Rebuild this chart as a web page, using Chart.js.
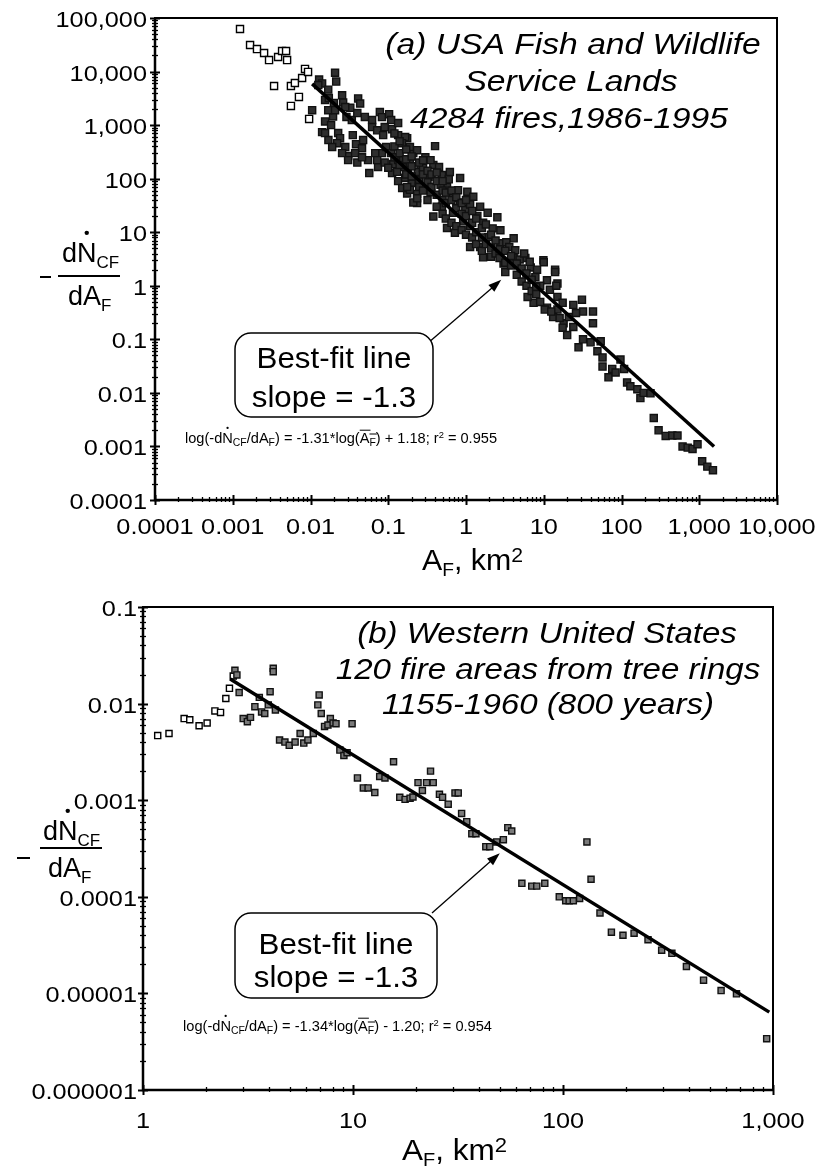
<!DOCTYPE html>
<html>
<head>
<meta charset="utf-8">
<script src="https://cdn.jsdelivr.net/npm/chart.js@4.4.1/dist/chart.umd.min.js"></script>
<style>
html, body { margin: 0; padding: 0; background: #fff; }
#wrap { position: relative; width: 816px; height: 1172px; }
canvas { position: absolute; left: 0; }
</style>
</head>
<body>
<div id="wrap">
  <canvas id="chartA" width="816" height="580" style="top:0px"></canvas>
  <canvas id="chartB" width="816" height="592" style="top:580px"></canvas>
</div>
<script>
const FONT = '"Liberation Sans", Arial, sans-serif';

// ---- panel (a) : USA Fish and Wildlife Service Lands ----
const A_X_TICKS = [0.0001, 0.001, 0.01, 0.1, 1, 10, 100, 1000, 10000];
const A_X_LABELS = ['0.0001', '0.001', '0.01', '0.1', '1', '10', '100', '1,000', '10,000'];
const A_Y_TICKS = [0.0001, 0.001, 0.01, 0.1, 1, 10, 100, 1000, 10000, 100000];
const A_Y_LABELS = ['0.0001', '0.001', '0.01', '0.1', '1', '10', '100', '1,000', '10,000', '100,000'];

// open squares (small fires, left of the fit)
const A_OPEN_X = [0.00124, 0.00167, 0.00205, 0.00253, 0.00293, 0.00383, 0.00431, 0.00485, 0.005,
  0.0034, 0.0056, 0.0063, 0.0078, 0.0085, 0.0093, 0.0071, 0.0056, 0.0096];
const A_OPEN_Y = [62400, 31300, 26300, 22200, 16400, 18700, 24200, 24200, 16400,
  5380, 5380, 6120, 7590, 11200, 9840, 3360, 2280, 1306];

// filled squares
const A_FILL_X = [
  0.0105, 0.0129, 0.0141, 0.0169, 0.0207, 0.0214, 0.0255, 0.0263, 0.0325, 0.041, 0.0435,
  0.0195, 0.0154, 0.0141, 0.0184, 0.0227, 0.024, 0.022, 0.028, 0.0305, 0.035, 0.0385, 0.046, 0.0475,
  0.062, 0.078, 0.083, 0.1025, 0.109, 0.112, 0.134, 0.134, 0.175, 0.055, 0.057, 0.074, 0.083, 0.094,
  0.109, 0.116, 0.134, 0.155, 0.112, 0.134, 0.18, 0.2, 0.235, 0.235, 0.175, 0.151,
  0.0126, 0.0154, 0.0172, 0.02, 0.0169, 0.0207, 0.028, 0.029, 0.034, 0.04, 0.05, 0.062, 0.072, 0.086,
  0.09, 0.0154, 0.017, 0.019, 0.0255, 0.0305, 0.0375, 0.04, 0.046, 0.068, 0.072, 0.09, 0.1, 0.13,
  0.165, 0.19, 0.21,
  0.165, 0.4, 0.21, 0.3, 0.26, 0.38, 0.49, 0.62, 0.84, 0.175, 0.235, 0.35, 0.57, 0.79, 1.04, 1.24,
  1.52, 0.49, 0.68, 0.92, 1.13, 0.38, 0.57, 0.72, 1.13, 1.66, 1.52, 2.53, 1.93, 2.77, 4.1, 4.1, 3.04,
  5.8, 6.8, 9.9, 14, 7.8, 11, 15, 7.4, 11, 15, 13.2, 18, 6.2, 9.0,
  0.15, 0.155, 0.19, 0.19, 0.235, 0.24, 0.28, 0.33, 0.35, 0.45, 0.47, 0.6, 0.68, 0.84, 0.98, 1.13,
  1.4, 1.66, 1.9, 2.2, 2.77, 3.3, 3.6, 4.3, 4.9, 5.6, 6.6, 8.2, 9.0, 12, 15, 17.5, 21,
  0.12, 0.12, 0.12, 0.14, 0.14, 0.14, 0.17, 0.17, 0.17, 0.2, 0.2, 0.2, 0.25, 0.25, 0.25, 0.28, 0.28,
  0.28, 0.32, 0.32, 0.32, 0.36, 0.36, 0.42, 0.42, 0.42, 0.42, 0.5, 0.5, 0.5, 0.5, 0.55, 0.55, 0.55,
  0.65, 0.65, 0.65, 0.75, 0.75, 0.75, 0.88, 0.88, 0.88, 1.0, 1.0, 1.0, 1.2, 1.2, 1.2, 1.35, 1.35,
  1.35, 1.6, 1.6, 1.6, 1.8, 1.8, 2.1, 2.1, 2.1, 2.4, 2.4, 2.7, 2.7, 3.2, 3.2, 3.2, 3.8, 3.8, 4.5,
  4.5, 5.2, 5.2, 6, 6, 7, 7, 8, 8,
  10, 14, 14.5, 10.3, 12.5, 16, 17.5, 20, 24, 31, 32, 43, 43, 26, 24, 32, 28, 40, 54, 49, 57, 57,
  68, 76, 84, 97, 108, 118, 130, 160, 175, 192, 236, 260, 300, 370, 450, 525, 610, 710, 820, 950,
  1090, 1270, 1500];
const A_FILL_Y = [
  1900, 7100, 6000, 4600, 9500, 6500, 3600, 2640, 2100, 3150, 2530,
  1450, 1170, 740, 1000, 710, 570, 460, 390, 264, 650, 440, 370, 525,
  1240, 1750, 1410, 1600, 1240, 840, 1090, 650, 570, 222, 127, 165, 300, 390,
  300, 187, 222, 165, 127, 90, 145, 83, 52, 35, 53, 67,
  5600, 2950, 3200, 2600, 1900, 1900, 2170, 1420, 1240, 1680, 1420, 920, 800, 650,
  920, 710, 525, 390, 300, 222, 300, 200, 250, 300, 222, 200, 160, 134,
  104, 62, 36,
  600, 405, 300, 250, 165, 180, 117, 133, 103, 70, 43, 56, 70, 61, 57, 46,
  30, 30, 23, 16, 13, 19.6, 12, 9.8, 5.3, 3.4, 5.3, 19, 8.1, 6.2, 7.7, 3.4, 2.6,
  3.3, 2.2, 3.0, 2.0, 1.45, 1.27, 1.1, 0.48, 0.39, 0.36, 0.26, 0.2, 0.62, 0.5,
  460, 222, 390, 196, 340, 133, 160, 109, 222, 165, 77, 97, 44, 36, 27, 33,
  20, 15, 23, 11.8, 10.9, 6.5, 5.3, 4.6, 3.1, 4.0, 2.8, 2.0, 1.0, 0.84, 0.62, 0.48, 0.26,
  400, 250, 700, 500, 300, 180, 350, 230, 120, 260, 170, 110, 200, 95, 70, 220, 120,
  60, 140, 85, 40, 120, 70, 130, 90, 50, 30, 90, 60, 40, 22, 55, 35, 18,
  60, 40, 15, 45, 28, 13, 35, 22, 11, 40, 20, 9, 25, 15, 8, 18, 10,
  6, 12, 8, 4.5, 14, 6, 9, 5, 3.5, 7, 4, 4.8, 3.3, 4.5, 2.7, 1.8, 3.6, 2.4, 2.6,
  1.6, 2.1, 1.2, 1.7, 1.0, 1.3, 0.8, 0.95, 0.7,
  2.75, 1.8, 1.0, 0.36, 0.33, 0.25, 0.165, 0.12, 0.44, 0.55, 0.33, 0.33, 0.2, 0.31, 0.17, 0.1, 0.071, 0.088, 0.092, 0.06, 0.046, 0.031,
  0.0195, 0.028, 0.024, 0.042, 0.028, 0.0157, 0.0133, 0.0117, 0.008, 0.01, 0.0098, 0.0034, 0.002, 0.00157, 0.0016, 0.0016, 0.001, 0.00095, 0.0009, 0.0011,
  0.00053, 0.00042, 0.00036];

const A_FIT_X = [0.0105, 1550];
const A_FIT_Y = [5900, 0.001];

// ---- panel (b) : Western United States, tree rings ----
const B_X_TICKS = [1, 10, 100, 1000];
const B_X_LABELS = ['1', '10', '100', '1,000'];
const B_Y_TICKS = [0.000001, 0.00001, 0.0001, 0.001, 0.01, 0.1];
const B_Y_LABELS = ['0.000001', '0.00001', '0.0001', '0.001', '0.01', '0.1'];

const B_OPEN_X = [1.175, 1.33, 1.57, 1.67, 1.85, 2.02, 2.2, 2.34, 2.48, 2.58, 2.69];
const B_OPEN_Y = [0.00467, 0.0049, 0.007, 0.0068, 0.0059, 0.0063, 0.0084, 0.0081, 0.0113, 0.0144, 0.0193];

const B_FILL_X = [2.74, 2.8, 2.87, 3.0, 3.14, 3.25, 3.41, 3.58, 3.67, 3.8, 3.95, 4.03, 4.17, 4.17, 4.27,
  4.47, 4.74, 4.97, 5.3, 5.6, 5.83, 6.1, 6.47, 6.9, 6.8, 7.06, 7.32, 7.6, 7.8, 8.04, 8.3, 8.66, 9.05,
  9.37, 9.9, 10.5, 11.2, 11.8, 12.7, 13.4, 14.2, 15.6, 16.7, 17.7, 18.7, 19.3, 20.4, 21.4, 22.4, 23.4,
  24.1, 25.8, 26.7, 28.4, 30.6, 31.7, 32.9, 34.8, 36.8, 38.5, 42.9, 44.8, 48.3, 52, 54.6, 57, 63.7,
  71, 75, 81.9, 96, 103, 107, 112, 120, 130, 136, 150, 170, 193, 218, 254, 295, 330, 387, 467, 566,
  670, 933];
const B_FILL_Y = [0.0221, 0.0198, 0.013, 0.007, 0.0065, 0.0072, 0.0093, 0.0116, 0.0082, 0.0079, 0.0097,
  0.0133, 0.0232, 0.0214, 0.0086, 0.0042, 0.004, 0.0037, 0.004, 0.0049, 0.0039, 0.0042, 0.0049, 0.0123,
  0.0097, 0.0079, 0.0058, 0.006, 0.007, 0.0063, 0.0062, 0.0033, 0.0029, 0.0031, 0.0062, 0.0017, 0.00134,
  0.00134, 0.0012, 0.00176, 0.0017, 0.0025, 0.00107, 0.00102, 0.00105, 0.00108, 0.00152, 0.00126,
  0.00152, 0.002, 0.00152, 0.00115, 0.00107, 0.00091, 0.00119, 0.00119, 0.00073, 0.0006, 0.00045,
  0.00045, 0.00033, 0.00033, 0.00037, 0.00039, 0.00052, 0.00048, 0.000138, 0.000129, 0.000129,
  0.000138, 0.0001, 0.000091, 0.000091, 0.000091, 0.000096, 0.00037, 0.000152, 0.000068, 0.000043,
  0.00004, 0.000042, 0.000036, 0.000028, 0.000026, 0.000019, 0.0000137, 0.0000107, 0.0000099,
  0.0000034];

const B_FIT_X = [2.6, 960];
const B_FIT_Y = [0.018, 0.0000064];

const pts = (xs, ys) => xs.map((x, i) => ({ x: x, y: ys[i] }));

function logAxis(ticks, size) {
  return {
    type: 'logarithmic',
    min: ticks[0],
    max: ticks[ticks.length - 1],
    afterBuildTicks: s => { s.ticks = ticks.map(v => ({ value: v })); },
    afterFit: s => { if (s.isHorizontal()) s.height = size; else s.width = size; },
    grid: { display: false, drawTicks: false },
    border: { display: false },
    ticks: { display: false, autoSkip: false }
  };
}

// text squeezed/stretched horizontally by k
function wideText(ctx, s, x, y, align, k) {
  ctx.save();
  ctx.translate(x, y);
  ctx.scale(k, 1);
  ctx.textAlign = align;
  ctx.textBaseline = 'alphabetic';
  ctx.fillText(s, 0, 0);
  ctx.restore();
}

// rich text: parts = [text, size, dy, flag]; stretched to fit x0..x1
function rich(ctx, parts, x0, x1, base) {
  let w = 0;
  const ws = parts.map(p => { ctx.font = p[1] + 'px ' + FONT; const m = ctx.measureText(p[0]).width; w += m; return m; });
  const k = x1 ? (x1 - x0) / w : 1;
  ctx.save();
  ctx.translate(x0, base);
  ctx.scale(k, 1);
  ctx.textAlign = 'left';
  ctx.textBaseline = 'alphabetic';
  let x = 0;
  parts.forEach((p, i) => {
    ctx.font = p[1] + 'px ' + FONT;
    ctx.fillText(p[0], x, p[2] || 0);
    if (p[3] === 'dot') {
      ctx.beginPath();
      ctx.arc(x + ws[i] / 2, -p[1] * 1.08, p[1] > 20 ? 2.2 : 1.1, 0, Math.PI * 2);
      ctx.fill();
    }
    if (p[3] === 'bar') {
      ctx.fillRect(x, -p[1] * 0.95, ws[i] + 1, 1);
    }
    x += ws[i];
  });
  ctx.restore();
}

function logMarks(ctx, scale, horiz, a) {
  const vals = scale.ticks.map(t => t.value);
  ctx.strokeStyle = '#000';
  vals.forEach((v, i) => {
    const p = Math.round(scale.getPixelForValue(v)) + 0.5;
    ctx.lineWidth = 2;
    ctx.beginPath();
    if (horiz) { ctx.moveTo(p, a.bottom - 5); ctx.lineTo(p, a.bottom + 5); }
    else { ctx.moveTo(a.left - 5, p); ctx.lineTo(a.left + 5, p); }
    ctx.stroke();
    if (i === vals.length - 1) return;
    ctx.lineWidth = 1.3;
    for (let k = 2; k < 10; k++) {
      const q = Math.round(scale.getPixelForValue(v * k)) + 0.5;
      ctx.beginPath();
      if (horiz) { ctx.moveTo(q, a.bottom - 3); ctx.lineTo(q, a.bottom + 2); }
      else { ctx.moveTo(a.left - 3, q); ctx.lineTo(a.left + 3, q); }
      ctx.stroke();
    }
  });
}

function roundBox(ctx, x0, y0, x1, y1, r) {
  ctx.beginPath();
  ctx.moveTo(x0 + r, y0);
  ctx.arcTo(x1, y0, x1, y1, r);
  ctx.arcTo(x1, y1, x0, y1, r);
  ctx.arcTo(x0, y1, x0, y0, r);
  ctx.arcTo(x0, y0, x1, y0, r);
  ctx.closePath();
  ctx.fillStyle = '#fff';
  ctx.fill();
  ctx.lineWidth = 1.5;
  ctx.strokeStyle = '#000';
  ctx.stroke();
}

const decor = {
  id: 'decor',
  afterDraw(chart, args, o) {
    const ctx = chart.ctx, a = chart.chartArea;
    const sx = chart.scales.x, sy = chart.scales.y;
    ctx.save();
    ctx.fillStyle = '#000';
    // frame
    ctx.strokeStyle = '#000';
    ctx.lineWidth = 2;
    ctx.strokeRect(a.left, a.top, a.right - a.left, a.bottom - a.top);
    ctx.lineWidth = 2.5;
    ctx.beginPath();
    ctx.moveTo(a.left, a.top); ctx.lineTo(a.left, a.bottom); ctx.lineTo(a.right, a.bottom);
    ctx.stroke();
    logMarks(ctx, sx, true, a);
    logMarks(ctx, sy, false, a);

    // tick labels, taken from the scales' tick values
    ctx.font = '22px ' + FONT;
    sx.ticks.forEach((t, i) => wideText(ctx, o.xLabels[i], sx.getPixelForValue(t.value), a.bottom + o.xLabelDy, 'center', 1.15));
    sy.ticks.forEach((t, i) => wideText(ctx, o.yLabels[i], a.left - o.yLabelGap, sy.getPixelForValue(t.value) + 9, 'right', 1.15));

    // italic title lines
    ctx.font = 'italic 29px ' + FONT;
    o.title.forEach(t => wideText(ctx, t[0], t[1], t[2], 'center', o.titleK));

    // y axis label  - dN_CF / dA_F
    const L = o.ylab;
    ctx.fillRect(L.minus[0], L.minus[1], L.minus[2], 2);
    rich(ctx, [['d', 27], ['N', 27, 0, 'dot'], ['CF', 17, 6]], L.num[0], 0, L.num[1]);
    ctx.fillRect(L.bar[0], L.bar[2], L.bar[1] - L.bar[0], 2);
    rich(ctx, [['dA', 27], ['F', 17, 6]], L.den[0], 0, L.den[1]);

    // x axis label  A_F, km2
    rich(ctx, [['A', 30], ['F', 19, 6], [', km', 30], ['2', 21, -8]], o.xlab[0], o.xlab[1], o.xlab[2]);

    // arrow from callout to fit line
    const tx = sx.getPixelForValue(o.arrow.to[0]), ty = sy.getPixelForValue(o.arrow.to[1]);
    const fx = o.arrow.from[0], fy = o.arrow.from[1];
    const ang = Math.atan2(ty - fy, tx - fx);
    ctx.lineWidth = 1.3;
    ctx.beginPath(); ctx.moveTo(fx, fy); ctx.lineTo(tx - 10 * Math.cos(ang), ty - 10 * Math.sin(ang)); ctx.stroke();
    ctx.beginPath();
    ctx.moveTo(tx, ty);
    ctx.lineTo(tx - 13 * Math.cos(ang) + 4.5 * Math.sin(ang), ty - 13 * Math.sin(ang) - 4.5 * Math.cos(ang));
    ctx.lineTo(tx - 13 * Math.cos(ang) - 4.5 * Math.sin(ang), ty - 13 * Math.sin(ang) + 4.5 * Math.cos(ang));
    ctx.closePath(); ctx.fill();

    // callout box
    const b = o.box;
    roundBox(ctx, b[0], b[1], b[2], b[3], 16);
    ctx.fillStyle = '#000';
    ctx.font = '29px ' + FONT;
    o.boxText.forEach(t => wideText(ctx, t[0], (b[0] + b[2]) / 2, t[1], 'center', 1.08));

    // regression equation
    rich(ctx, o.eq.parts, o.eq.x0, o.eq.x1, o.eq.y);
    ctx.restore();
  }
};

function eqParts(slope, icpt, r2) {
  return [['log(-d', 14], ['N', 14, 0, 'dot'], ['CF', 10, 3], ['/dA', 14], ['F', 10, 3],
    [') = ' + slope + '*log(', 14], ['A', 14, 0, 'bar'], ['F', 10, 3, 'bar'], [') ' + icpt + '; r', 14],
    ['2', 9, -5], [' = ' + r2, 14]];
}

function makeChart(id, cfg) {
  return new Chart(document.getElementById(id).getContext('2d'), {
    type: 'scatter',
    data: {
      datasets: [
        { data: cfg.fit, showLine: true, borderColor: '#000', borderWidth: 3.5, pointRadius: 0, fill: false },
        { data: cfg.filled, pointStyle: 'rect', pointRadius: cfg.r, backgroundColor: cfg.fillColor,
          borderColor: '#111', borderWidth: 1.4 },
        { data: cfg.open, pointStyle: 'rect', pointRadius: cfg.r, backgroundColor: '#fff',
          borderColor: '#000', borderWidth: 1.4 }
      ]
    },
    options: {
      responsive: false,
      animation: false,
      layout: { padding: cfg.padding },
      scales: { x: cfg.x, y: cfg.y },
      plugins: { legend: { display: false }, tooltip: { enabled: false }, decor: cfg.decor }
    },
    plugins: [decor]
  });
}

makeChart('chartA', {
  fit: pts(A_FIT_X, A_FIT_Y),
  filled: pts(A_FILL_X, A_FILL_Y),
  open: pts(A_OPEN_X, A_OPEN_Y),
  r: 5, fillColor: '#2e2e2e',
  padding: { top: 18, right: 39, left: 0, bottom: 0 },
  x: logAxis(A_X_TICKS, 80),
  y: logAxis(A_Y_TICKS, 155),
  decor: {
    xLabels: A_X_LABELS, yLabels: A_Y_LABELS, xLabelDy: 34, yLabelGap: 8,
    titleK: 1.16,
    title: [['(a) USA Fish and Wildlife', 573, 54], ['Service Lands', 571, 91], ['4284 fires,1986-1995', 569, 128]],
    ylab: { minus: [40, 276, 11], num: [62, 262], bar: [58, 120, 275], den: [68, 305] },
    xlab: [422, 523, 570],
    arrow: { from: [428, 343], to: [2.84, 1.29] },
    box: [235, 333, 433, 417],
    boxText: [['Best-fit line', 368], ['slope = -1.3', 407]],
    eq: { parts: eqParts('-1.31', '+ 1.18', '0.955'), x0: 185, x1: 497, y: 443 }
  }
});

makeChart('chartB', {
  fit: pts(B_FIT_X, B_FIT_Y),
  filled: pts(B_FILL_X, B_FILL_Y),
  open: pts(B_OPEN_X, B_OPEN_Y),
  r: 4.3, fillColor: '#7a7a7a',
  padding: { top: 27, right: 43, left: 0, bottom: 0 },
  x: logAxis(B_X_TICKS, 82),
  y: logAxis(B_Y_TICKS, 143),
  decor: {
    xLabels: B_X_LABELS, yLabels: B_Y_LABELS, xLabelDy: 38, yLabelGap: 6,
    titleK: 1.14,
    title: [['(b) Western United States', 547, 63], ['120 fire areas from tree rings', 548, 99], ['1155-1960 (800 years)', 548, 134]],
    ylab: { minus: [17, 277, 13], num: [43, 260], bar: [40, 102, 267], den: [48, 297] },
    xlab: [402, 507, 580],
    arrow: { from: [432, 333], to: [50, 0.000283] },
    box: [235, 333, 437, 418],
    boxText: [['Best-fit line', 374], ['slope = -1.3', 407]],
    eq: { parts: eqParts('-1.34', '- 1.20', '0.954'), x0: 183, x1: 492, y: 451 }
  }
});
</script>
</body>
</html>
